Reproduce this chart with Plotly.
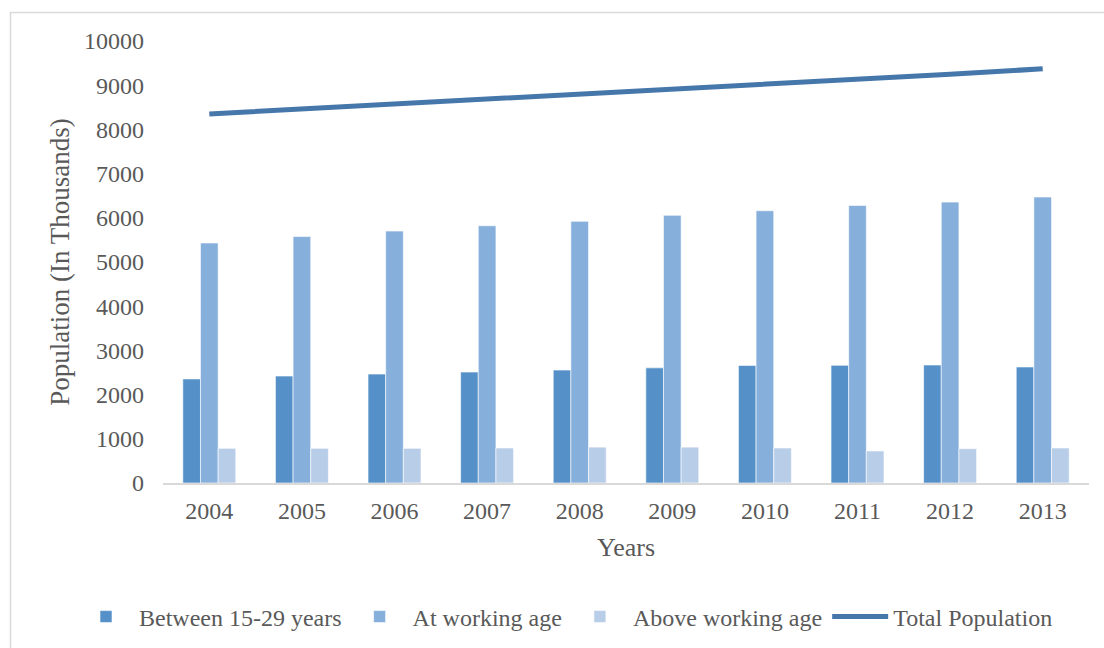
import plotly.graph_objects as go

years = ["2004", "2005", "2006", "2007", "2008", "2009", "2010", "2011", "2012", "2013"]
between_15_29 = [2355, 2420, 2465, 2510, 2555, 2605, 2660, 2662, 2670, 2625]
working_age = [5430, 5575, 5700, 5820, 5920, 6055, 6160, 6280, 6355, 6470]
above_working = [785, 785, 785, 792, 812, 812, 792, 725, 776, 792]
total_population = [8350, 8460, 8570, 8680, 8790, 8900, 9010, 9130, 9250, 9370]
y_ticks = [0, 1000, 2000, 3000, 4000, 5000, 6000, 7000, 8000, 9000, 10000]
y_tick_labels = [str(v) for v in y_ticks]

FONT = "Liberation Serif, Times New Roman, serif"
TXT = "#595959"

fig = go.Figure()
fig.add_trace(go.Bar(x=years, y=between_15_29, name="Between 15-29 years",
                     marker=dict(color="#5591C8", line=dict(color="#FFFFFF", width=0.6))))
fig.add_trace(go.Bar(x=years, y=working_age, name="At working age",
                     marker=dict(color="#86AFDC", line=dict(color="#FFFFFF", width=0.6))))
fig.add_trace(go.Bar(x=years, y=above_working, name="Above working age",
                     marker=dict(color="#B8CDE8", line=dict(color="#FFFFFF", width=0.6))))
fig.add_trace(go.Scatter(x=years, y=total_population, name="Total Population",
                         mode="lines", line=dict(color="#4677AB", width=5)))

ml, mr, mt, mb = 163, 15, 41, 165
W, H = 1104, 648
pw, ph = W - ml - mr, H - mt - mb

fig.update_layout(
    width=W, height=H,
    margin=dict(l=ml, r=mr, t=mt, b=mb, autoexpand=False),
    paper_bgcolor="white", plot_bgcolor="white",
    barmode="group", bargap=0.428, bargroupgap=0,
    font=dict(family=FONT, color=TXT, size=24),
    showlegend=True,
    legend=dict(orientation="h",
                x=(73 - ml) / pw, xanchor="left",
                y=(483 - 617) / ph, yanchor="middle",
                font=dict(family=FONT, size=24, color=TXT),
                traceorder="normal", itemwidth=56),
    xaxis=dict(type="category", showgrid=False, showline=True, linecolor="#D9D9D9",
               linewidth=1.5, ticks="", tickfont=dict(size=24, color=TXT),
               ticklabelstandoff=5,
               title=dict(text="Years", font=dict(size=26, color=TXT), standoff=15)),
    yaxis=dict(range=[0, 10000], tickvals=y_ticks, ticktext=y_tick_labels,
               showgrid=False, showline=False,
               zeroline=False, ticks="", tickfont=dict(size=24, color=TXT),
               ticklabelstandoff=18,
               title=dict(text="Population (In Thousands)", font=dict(size=27, color=TXT),
                          standoff=6)),
    shapes=[dict(type="rect", xref="paper", yref="paper",
                 x0=(10.5 - ml) / pw, x1=1.2,
                 y0=-0.6, y1=(483 - 12.5) / ph,
                 line=dict(color="#D9D9D9", width=1.5), layer="below")],
)

fig.write_html("out.html")
